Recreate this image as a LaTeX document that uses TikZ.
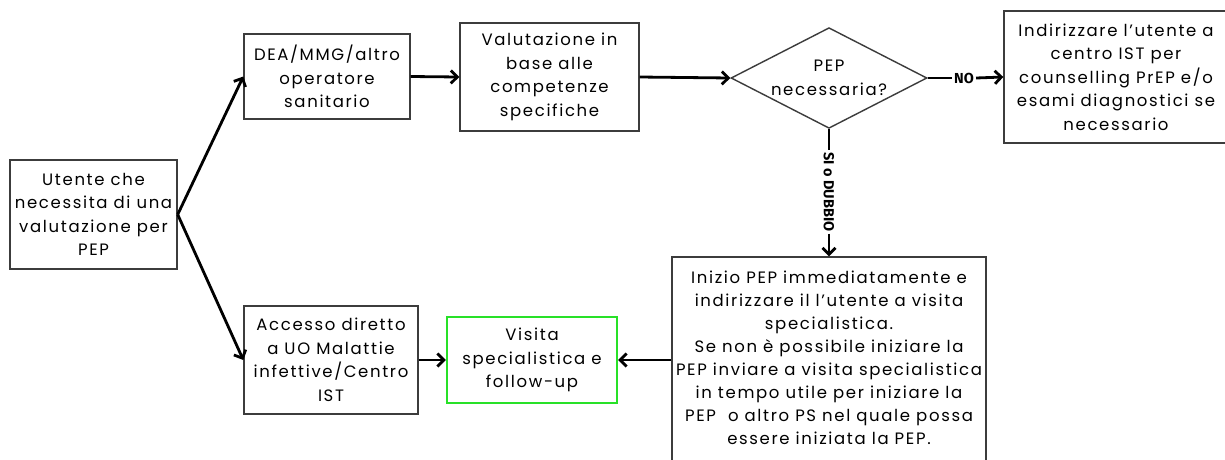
\documentclass[tikz,border=0pt]{standalone}
\usepackage{fontspec}
\setmainfont{Poppins}[LetterSpace=10]
\newfontfamily\lblfont{Fira Sans}
\usetikzlibrary{arrows.meta,shapes.geometric}
\definecolor{boxline}{RGB}{60,60,60}
\definecolor{vgreen}{RGB}{40,225,40}
\begin{document}
\begin{tikzpicture}[x=1pt,y=-1pt,
  box/.style={draw=boxline, line width=1.4pt, align=center, inner sep=0pt,
    font=\fontsize{16.5}{23.5}\selectfont},
  txt/.style={align=center, inner sep=0pt, font=\fontsize{16.5}{23}\selectfont},
  arr/.style={line width=2.8pt, -{Straight Barb[length=6.5pt,width=13pt]}},
  plain/.style={line width=2.8pt},
  lbl/.style={font=\lblfont\bfseries\fontsize{14.5}{16}\selectfont, inner sep=2pt}
]
\useasboundingbox[fill=white] (0,0) rectangle (1225,459);

\node[box, minimum width=167pt, minimum height=109pt] (utente) at (93.5,214.5)
  {Utente che\\necessita di una\\valutazione per\\PEP};
\node[box, minimum width=166pt, minimum height=85pt] (dea) at (327,76.5)
  {DEA/MMG/altro\\operatore\\sanitario};
\node[box, minimum width=179pt, minimum height=108pt] (val) at (549.5,77)
  {Valutazione in\\base alle\\competenze\\specifiche};
\node[draw=boxline, line width=1.4pt, diamond, aspect=1.77, inner sep=0pt,
  minimum width=196pt, minimum height=100pt, align=center,
  font=\fontsize{16.5}{23.5}\selectfont] (dia) at (829,78)
  {PEP\\necessaria?};
\node[box, minimum width=224pt, minimum height=132pt] (ist) at (1116,77)
  {Indirizzare l’utente a\\centro IST per\\counselling PrEP e/o\\esami diagnostici se\\necessario};
\node[box, minimum width=174pt, minimum height=108pt] (acc) at (331,360)
  {Accesso diretto\\a UO Malattie\\infettive/Centro\\IST};
\node[box, draw=vgreen, line width=2.2pt, minimum width=170pt, minimum height=86pt] (vis) at (532,360)
  {Visita\\specialistica e\\follow-up};
\node[box, minimum width=314pt, minimum height=206pt] (pep) at (829,360) {};
\node[txt] (peptxt) at (829,358)
  {Inizio PEP immediatamente e\\indirizzare il l’utente a visita\\specialistica.\\Se non è possibile iniziare la\\PEP inviare a visita specialistica\\in tempo utile per iniziare la\\PEP\ \ o altro PS nel quale possa\\essere iniziata la PEP.};

\node[lbl] (no) at (964,78) {NO};
\node[lbl, rotate=-90] (si) at (829,192) {SI o DUBBIO};

\draw[arr] (utente.east) -- (dea.west);
\draw[arr] (utente.east) -- (acc.west);
\draw[arr] (dea.east) -- (val.west);
\draw[arr] (val.east) -- (dia.west);
\draw[plain] (dia.east) -- (no.west);
\draw[arr] (no.east) -- (ist.west);
\draw[plain] (dia.south) -- (si.west);
\draw[arr] (si.east) -- (pep.north);
\draw[arr] (acc.east) -- (vis.west);
\draw[arr] (pep.west) -- (vis.east);
\end{tikzpicture}
\end{document}
